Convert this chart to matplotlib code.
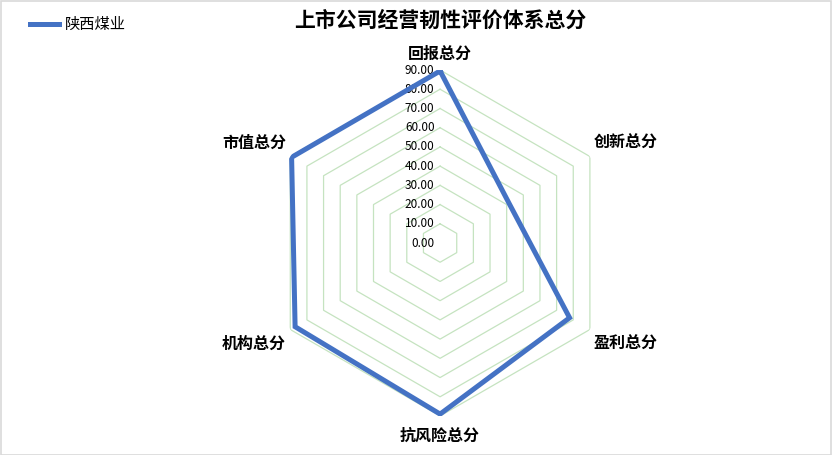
import matplotlib.pyplot as plt
import numpy as np
from matplotlib.patches import Rectangle

plt.rcParams['font.family'] = ['Noto Sans CJK SC', 'DejaVu Sans']

categories = ['回报总分', '创新总分', '盈利总分', '抗风险总分', '机构总分', '市值总分']
company = '陕西煤业'
scores = [89.5, 41.4, 77.8, 89.0, 87.1, 89.2]
levels = [0, 10, 20, 30, 40, 50, 60, 70, 80, 90]

n = len(categories)
angles = np.linspace(0, 2 * np.pi, n, endpoint=False)

fig = plt.figure(figsize=(8.32, 4.55), dpi=100)
fig.patches.append(Rectangle((0.001, 0.001), 0.998, 0.997, transform=fig.transFigure,
                             fill=False, edgecolor='#D9D9D9', linewidth=1.2))

ax = fig.add_axes([0.321, 0.0857, 0.4159, 0.7604], projection='polar')
ax.set_theta_zero_location('N')
ax.set_theta_direction(-1)
ax.set_ylim(0, 90)
ax.grid(False)
ax.spines['polar'].set_visible(False)
ax.set_xticks([])
ax.set_yticks([])
ax.patch.set_alpha(0)

# hexagon grid
closed = np.append(angles, angles[0])
for lv in levels[1:]:
    ax.plot(closed, [lv] * (n + 1), color='#C5E3C0', linewidth=0.9, zorder=1)

# value labels along the top axis
for lv in levels:
    ax.annotate('%.2f' % lv, (0, lv), xytext=(-4, 0), textcoords='offset points',
                ha='right', va='center', fontsize=8.5, color='#000000')

# data line
vals = scores + scores[:1]
ax.plot(closed, vals, color='#4472C4', linewidth=3.6, zorder=3, label=company,
        solid_joinstyle='miter')

# category labels
offsets = [(0, 12), (26, 10), (26, -10), (0, -14), (-26, -10), (-26, 10)]
for ang, cat, off in zip(angles, categories, offsets):
    ax.annotate(cat, (ang, 90), xytext=off, textcoords='offset points',
                ha='center', va='center', fontsize=11.5, fontweight='bold')

fig.text(0.529, 0.955, '上市公司经营韧性评价体系总分', ha='center', va='center',
         fontsize=15, fontweight='bold')

fig.legend(loc='upper left', bbox_to_anchor=(0.02, 0.995), frameon=False,
           fontsize=11, handlelength=1.9, handletextpad=0.35)

fig.savefig('out.png', dpi=100)
